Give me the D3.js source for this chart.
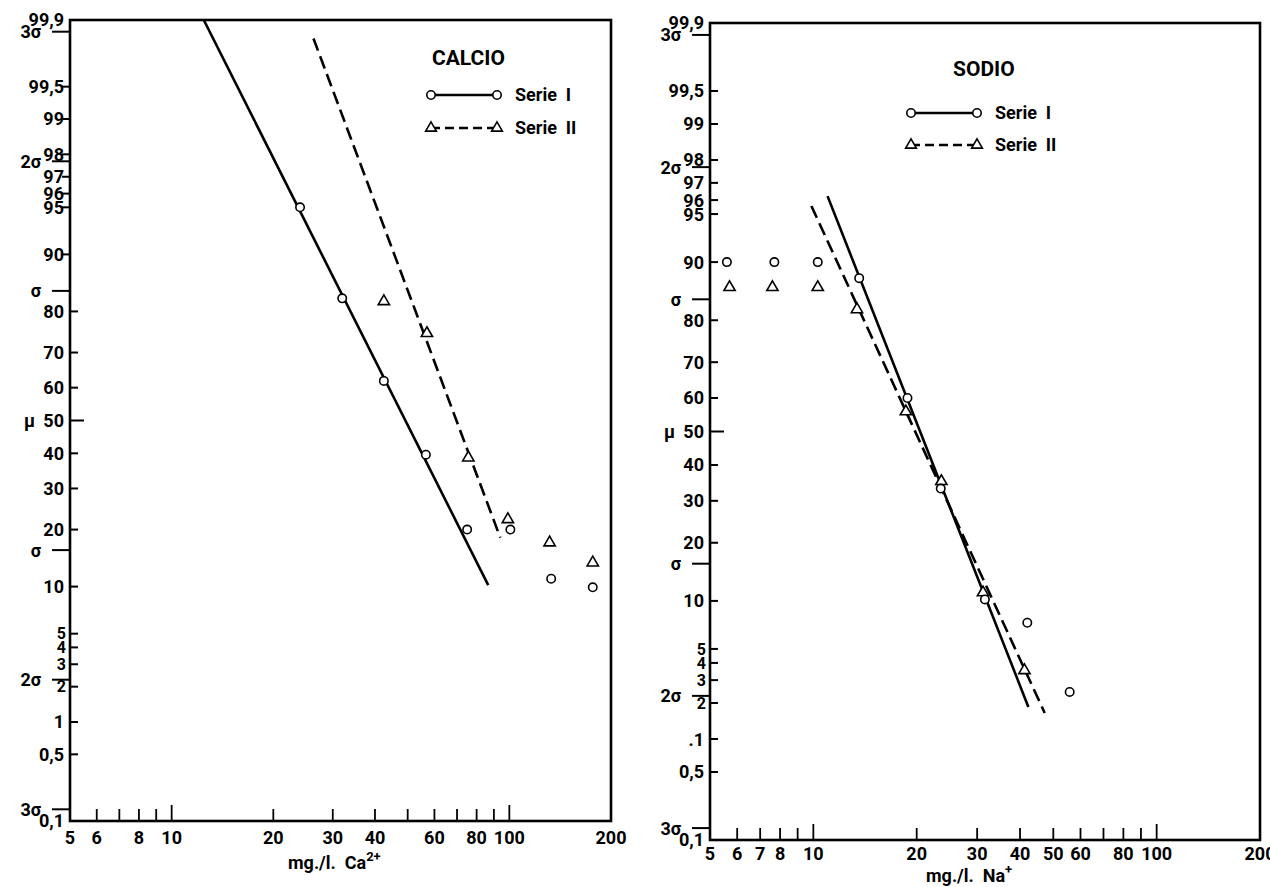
<!DOCTYPE html>
<html><head><meta charset="utf-8">
<script src="https://cdn.jsdelivr.net/npm/d3@7"></script>
<style>
body{margin:0;background:#fff;}
svg{display:block;}
text{font-family:Roboto,"DejaVu Sans",sans-serif;font-weight:700;fill:#000;}
</style></head><body>
<svg id="chart" width="1270" height="887"></svg>
<script>
// ---------------- data ----------------
const yTickValues = [99.9, 99.5, 99, 98, 97, 96, 95, 90, 80, 70, 60, 50, 40, 30, 20, 10, 5, 4, 3, 2, 1, 0.5, 0.1];
const yTickLabelsCalcio = ["99,9","99,5","99","98","97","96","95","90","80","70","60","50","40","30","20","10","5","4","3","2","1","0,5","0,1"];
const yTickLabelsSodio  = ["99,9","99,5","99","98","97","96","95","90","80","70","60","50","40","30","20","10","5","4","3","2",".1","0,5","0,1"];
const sigmaValues = [3, 2, 1, 0, -1, -2, -3];
const sigmaLabels = ["3σ","2σ","σ","μ","σ","2σ","3σ"];
const xTickValues = [5,6,7,8,9,10,20,30,40,50,60,70,80,90,100,200];
const xLabeledCalcio = [5,6,8,10,20,30,40,60,80,100,200];
const xLabeledSodio  = [5,6,7,8,10,20,30,40,50,60,80,100,200];

// CALCIO (Ca2+, mg/l) - cumulative %
const calcioSerieI_x  = [24, 32, 42.5, 56.6, 75, 100.7, 133, 176.6];
const calcioSerieI_p  = [95, 82.7, 62, 39.6, 20, 20, 11.1, 9.9];
const calcioSerieII_x = [42.5, 57, 75.6, 99, 131.6, 176.6];
const calcioSerieII_p = [82.3, 75.2, 39, 22.5, 17.5, 13.8];
const calcioFitI_x  = [12.45, 86.6];
const calcioFitI_p  = [99.9, 10.2];
const calcioFitII_x = [26.3, 94];
const calcioFitII_p = [99.84, 18.3];

// SODIO (Na+, mg/l) - cumulative %
const sodioSerieI_x  = [5.6, 7.7, 10.3, 13.6, 18.8, 23.5, 31.6, 42.0, 55.8];
const sodioSerieI_p  = [90, 90, 90, 87.7, 60, 33.3, 10.2, 7.4, 2.44];
const sodioSerieII_x = [5.7, 7.6, 10.3, 13.4, 18.6, 23.6, 31.2, 41.2];
const sodioSerieII_p = [86.4, 86.4, 86.4, 82.4, 56.3, 35.6, 11.3, 3.6];
const sodioFitI_x  = [11.0, 42.3];
const sodioFitI_p  = [96.25, 1.86];
const sodioFitII_x = [9.87, 47.2];
const sodioFitII_p = [95.6, 1.66];

const seriesNames = ["Serie I", "Serie II"];

// ---------------- helpers ----------------
// inverse normal CDF (Acklam)
function probit(p){
  const a=[-3.969683028665376e+01,2.209460984245205e+02,-2.759285104469687e+02,1.383577518672690e+02,-3.066479806614716e+01,2.506628277459239e+00];
  const b=[-5.447609879822406e+01,1.615858368580409e+02,-1.556989798598866e+02,6.680131188771972e+01,-1.328068155288572e+01];
  const c=[-7.784894002430293e-03,-3.223964580411365e-01,-2.400758277161838e+00,-2.549732539343734e+00,4.374664141464968e+00,2.938163982698783e+00];
  const d=[7.784695709041462e-03,3.224671290700398e-01,2.445134137142996e+00,3.754408661907416e+00];
  const pl=0.02425, ph=1-pl; let q,r;
  if(p<pl){q=Math.sqrt(-2*Math.log(p));return (((((c[0]*q+c[1])*q+c[2])*q+c[3])*q+c[4])*q+c[5])/((((d[0]*q+d[1])*q+d[2])*q+d[3])*q+1);}
  if(p<=ph){q=p-0.5;r=q*q;return (((((a[0]*r+a[1])*r+a[2])*r+a[3])*r+a[4])*r+a[5])*q/(((((b[0]*r+b[1])*r+b[2])*r+b[3])*r+b[4])*r+1);}
  q=Math.sqrt(-2*Math.log(1-p));return -(((((c[0]*q+c[1])*q+c[2])*q+c[3])*q+c[4])*q+c[5])/((((d[0]*q+d[1])*q+d[2])*q+d[3])*q+1);
}
const zMax = probit(0.999);

const svg = d3.select("#chart");

function drawPanel(cfg){
  const x = d3.scaleLog().domain([5,200]).range([cfg.left, cfg.right]);
  const yz = d3.scaleLinear().domain([-zMax, zMax]).range([cfg.bottom, cfg.top]);
  const y = p => yz(probit(p/100));
  const g = svg.append("g");
  const FS = 18;

  // frame
  g.append("rect").attr("x",cfg.left).attr("y",cfg.top)
    .attr("width",cfg.right-cfg.left).attr("height",cfg.bottom-cfg.top)
    .attr("fill","none").attr("stroke","#000").attr("stroke-width",2.6);

  // y ticks & labels
  yTickValues.forEach((v,i)=>{
    const yy = y(v);
    if(v!==99.9 && v!==0.1){
      const out = cfg.outwardAbove!==null && v>=cfg.outwardAbove;
      const len = v===50 ? 14 : 8;
      g.append("line").attr("x1",cfg.left).attr("x2",out?cfg.left-len:cfg.left+len)
        .attr("y1",yy).attr("y2",yy).attr("stroke","#000").attr("stroke-width",2);
    }
    const small = (v>=2 && v<=5);
    g.append("text").attr("x",cfg.left-(small?4:6)).attr("y",yy).attr("dy","0.36em")
      .attr("text-anchor","end").attr("font-size",small?16:FS).text(cfg.yLabels[i]);
  });

  // sigma marks
  sigmaValues.forEach((z,i)=>{
    const yy = yz(z);
    if(z!==0){
      g.append("line").attr("x1",cfg.left-18).attr("x2",cfg.left)
        .attr("y1",yy).attr("y2",yy).attr("stroke","#000").attr("stroke-width",2);
      g.append("text").attr("x",cfg.left-29).attr("y",yy).attr("dy","0.36em")
        .attr("text-anchor","end").attr("font-size",FS).text(sigmaLabels[i]);
    } else {
      g.append("text").attr("x",cfg.left-35).attr("y",yy).attr("dy","0.36em")
        .attr("text-anchor","end").attr("font-size",FS).text(sigmaLabels[i]);
    }
  });

  // x ticks
  xTickValues.forEach(v=>{
    if(v===200) return;
    const len = (v===10||v===100)?16:12;
    g.append("line").attr("x1",x(v)).attr("x2",x(v))
      .attr("y1",cfg.bottom).attr("y2",cfg.bottom-len).attr("stroke","#000").attr("stroke-width",1.8);
  });
  cfg.xLabeled.forEach(v=>{
    g.append("text").attr("x",x(v)).attr("y",cfg.xLabelY)
      .attr("text-anchor","middle").attr("font-size",FS).text(v);
  });

  // axis title
  const t = g.append("text").attr("x",cfg.titleX).attr("y",cfg.titleY).attr("font-size",FS);
  t.append("tspan").text("mg./l.\u00a0\u00a0"+cfg.ion);
  t.append("tspan").attr("dy",-8).attr("font-size",13).text(cfg.ionCharge);

  // fitted lines
  const line = d3.line().x(d=>x(d[0])).y(d=>y(d[1]));
  g.append("path").datum(d3.zip(cfg.fitI_x,cfg.fitI_p)).attr("d",line)
    .attr("fill","none").attr("stroke","#000").attr("stroke-width",2.6);
  g.append("path").datum(d3.zip(cfg.fitII_x,cfg.fitII_p)).attr("d",line)
    .attr("fill","none").attr("stroke","#000").attr("stroke-width",2.6).attr("stroke-dasharray","13,6");

  // points
  g.selectAll(null).data(d3.zip(cfg.sIIx,cfg.sIIp)).join("path")
    .attr("transform",d=>`translate(${x(d[0])},${y(d[1])+1})`)
    .attr("d",d3.symbol(d3.symbolTriangle,55)())
    .attr("fill","#fff").attr("stroke","#000").attr("stroke-width",1.6);
  g.selectAll(null).data(d3.zip(cfg.sIx,cfg.sIp)).join("circle")
    .attr("cx",d=>x(d[0])).attr("cy",d=>y(d[1])).attr("r",4.2)
    .attr("fill","#fff").attr("stroke","#000").attr("stroke-width",1.6);

  // legend
  const L = cfg.legend;
  g.append("text").attr("x",L.titleX).attr("y",L.titleY).attr("font-size",21).text(cfg.title);
  [L.row1, L.row2].forEach((ry,k)=>{
    g.append("line").attr("x1",L.x1).attr("x2",L.x2).attr("y1",ry).attr("y2",ry)
      .attr("stroke","#000").attr("stroke-width",2.4).attr("stroke-dasharray",k===1?"9,5":null);
    [L.x1,L.x2].forEach(px=>{
      if(k===0){
        g.append("circle").attr("cx",px).attr("cy",ry).attr("r",4.2)
          .attr("fill","#fff").attr("stroke","#000").attr("stroke-width",1.6);
      } else {
        g.append("path").attr("transform",`translate(${px},${ry})`)
          .attr("d",d3.symbol(d3.symbolTriangle,50)())
          .attr("fill","#fff").attr("stroke","#000").attr("stroke-width",1.6);
      }
    });
    g.append("text").attr("x",L.textX).attr("y",ry+6).attr("font-size",FS)
      .text(seriesNames[k].replace(" ","\u00a0\u00a0"));
  });
}

drawPanel({
  left:70, right:611, top:20, bottom:821, outwardAbove:85,
  yLabels:yTickLabelsCalcio, xLabeled:xLabeledCalcio, xLabelY:844,
  titleX:288, titleY:869, ion:"Ca", ionCharge:"2+",
  fitI_x:calcioFitI_x, fitI_p:calcioFitI_p, fitII_x:calcioFitII_x, fitII_p:calcioFitII_p,
  sIx:calcioSerieI_x, sIp:calcioSerieI_p, sIIx:calcioSerieII_x, sIIp:calcioSerieII_p,
  title:"CALCIO",
  legend:{titleX:432,titleY:65,row1:95,row2:128,x1:431,x2:497,textX:515}
});
drawPanel({
  left:710, right:1260, top:23, bottom:840, outwardAbove:null,
  yLabels:yTickLabelsSodio, xLabeled:xLabeledSodio, xLabelY:860,
  titleX:926, titleY:882, ion:"Na", ionCharge:"+",
  fitI_x:sodioFitI_x, fitI_p:sodioFitI_p, fitII_x:sodioFitII_x, fitII_p:sodioFitII_p,
  sIx:sodioSerieI_x, sIp:sodioSerieI_p, sIIx:sodioSerieII_x, sIIp:sodioSerieII_p,
  title:"SODIO",
  legend:{titleX:953,titleY:76,row1:113,row2:145,x1:911,x2:977,textX:995}
});
</script>
</body></html>
